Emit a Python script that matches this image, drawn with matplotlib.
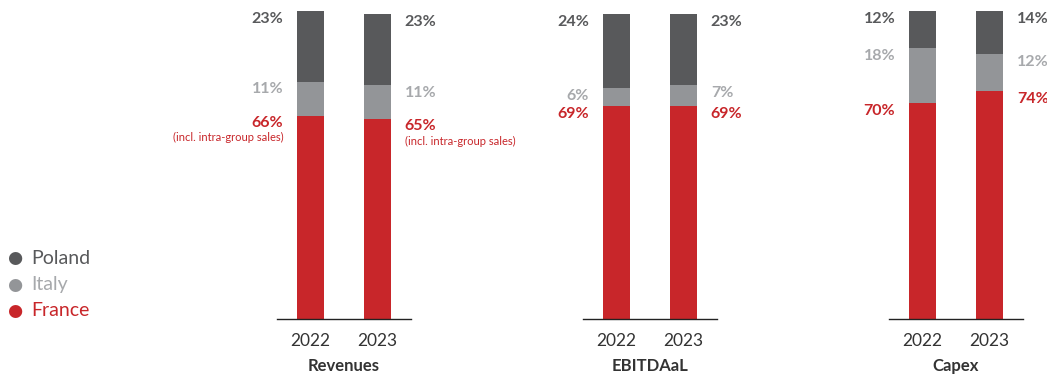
#Import neccessary libraries
import matplotlib.pyplot as plt

plt.rcParams['font.family'] = ['Lato', 'DejaVu Sans']

#Share of each country per metric (2022, 2023)
groups = ["Revenues", "EBITDAaL", "Capex"]
years = ["2022", "2023"]
france = [[66, 65], [69, 69], [70, 74]]
italy = [[11, 11], [6, 7], [18, 12]]
poland = [[23, 23], [24, 23], [12, 14]]
notes = ["(incl. intra-group sales)", None, None]

countries = ["Poland", "Italy", "France"]
bar_colors = {"Poland": "#58595b", "Italy": "#939598", "France": "#c8262a"}
text_colors = {"Poland": "#58595b", "Italy": "#a7a9ac", "France": "#c8262a"}

W, H = 1047, 376
fig = plt.figure(figsize=(W / 100, H / 100), dpi=100)

lefts = [277, 583, 889]
for g, name in enumerate(groups):
    ax = fig.add_axes([lefts[g] / W, 57 / H, 134 / W, 308 / H])
    for i in range(2):
        segs = [("France", france[g][i]), ("Italy", italy[g][i]), ("Poland", poland[g][i])]
        bottom = 0
        for country, val in segs:
            ax.bar(i, val, bottom=bottom, width=0.4, color=bar_colors[country])
            top = bottom + val
            #labels sit beside the top of each segment
            if i == 0:
                dx, ha = -10, "right"
                xpos = i - 0.2
            else:
                dx, ha = 10, "left"
                xpos = i + 0.2
            ax.annotate(f"{val}%", (xpos, top), xytext=(dx, -5.5), textcoords="offset points",
                        ha=ha, va="center", fontsize=11.5, fontweight="bold",
                        color=text_colors[country], annotation_clip=False)
            if country == "France" and notes[g]:
                ax.annotate(notes[g], (xpos, top), xytext=(dx, -16), textcoords="offset points",
                            ha=ha, va="center", fontsize=8, color=text_colors[country],
                            annotation_clip=False)
            bottom = top
    ax.set_xlim(-0.5, 1.5)
    ax.set_ylim(0, 100)
    ax.set_xticks([0, 1])
    ax.set_xticklabels(years, fontsize=12.5, color="#333333")
    ax.tick_params(axis="x", length=0, pad=10)
    ax.set_yticks([])
    for s in ["left", "right", "top"]:
        ax.spines[s].set_visible(False)
    ax.spines["bottom"].set_color("#222222")
    ax.spines["bottom"].set_linewidth(1)
    fig.text((lefts[g] + 67) / W, 1 - 366 / H, name, ha="center", va="center",
             fontsize=12, fontweight="bold", color="#333333")

#Legend on the left
for k, country in enumerate(countries):
    y = 1 - (258 + 26.5 * k) / H
    fig.text(15 / W, y, "\u25cf", ha="center", va="center", fontsize=12.5,
             color=bar_colors[country], family="DejaVu Sans")
    fig.text(31 / W, y, country, ha="left", va="center", fontsize=14, color=text_colors[country])

plt.savefig("out.png", dpi=100)
